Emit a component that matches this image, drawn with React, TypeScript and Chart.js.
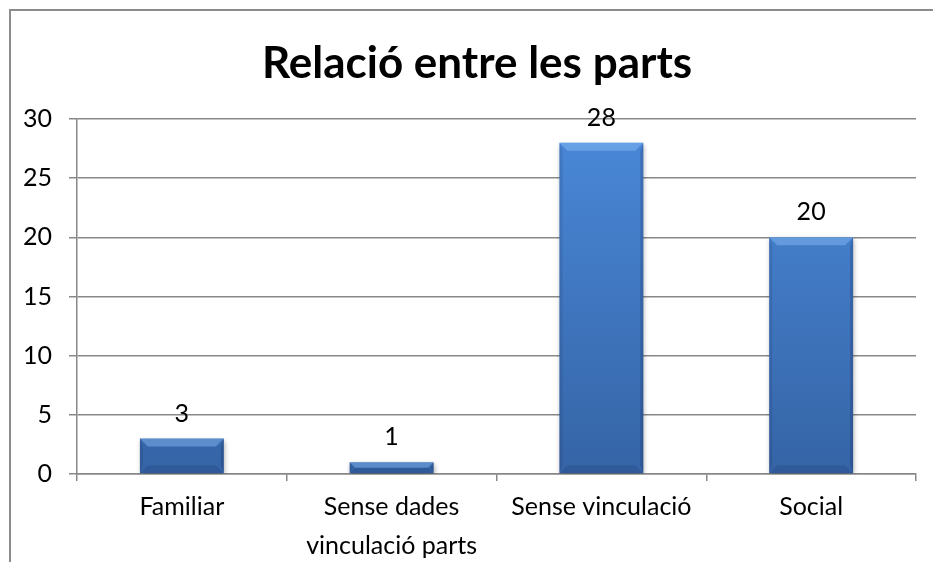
import React, { useEffect, useRef } from 'react';
import { Chart, registerables } from 'chart.js';

Chart.register(...registerables);

const chartTitle = 'Relació entre les parts';
const categories: (string | string[])[] = ['Familiar', ['Sense dades', 'vinculació parts'], 'Sense vinculació', 'Social'];
const values = [3, 1, 28, 20];
const yMin = 0;
const yMax = 30;
const yStep = 5;

const FONT = 'Lato, "Open Sans", sans-serif';
const GRID = '#888888';

const titlePlugin = {
  id: 'customTitle',
  afterDraw(chart: any) {
    const ctx = chart.ctx;
    ctx.save();
    ctx.fillStyle = '#000000';
    ctx.font = `bold 44px ${FONT}`;
    ctx.textAlign = 'center';
    ctx.textBaseline = 'middle';
    ctx.fillText(chartTitle, 466, 53);
    ctx.restore();
  },
};

const bevelPlugin = {
  id: 'bevelLabels',
  beforeDatasetsDraw(chart: any) {
    const ctx = chart.ctx;
    ctx.save();
    ctx.shadowColor = 'rgba(0,0,0,0.35)';
    ctx.shadowBlur = 5;
    ctx.shadowOffsetX = 1;
    ctx.shadowOffsetY = 2;
  },
  afterDatasetsDraw(chart: any) {
    const ctx = chart.ctx;
    ctx.restore();
    const meta = chart.getDatasetMeta(0);
    const data = chart.data.datasets[0].data as number[];
    meta.data.forEach((el: any, i: number) => {
      const { x, y, base, width } = el.getProps(['x', 'y', 'base', 'width'], true);
      const l = x - width / 2;
      const r = x + width / 2;
      const t = y;
      const b = base;
      const h = b - t;
      const bv = Math.min(8, h / 2);
      const sw = Math.min(3, h / 2);
      const poly = (pts: number[][], fill: string) => {
        ctx.beginPath();
        ctx.moveTo(pts[0][0], pts[0][1]);
        for (let k = 1; k < pts.length; k++) ctx.lineTo(pts[k][0], pts[k][1]);
        ctx.closePath();
        ctx.fillStyle = fill;
        ctx.fill();
      };
      ctx.save();
      poly([[l, t], [r, t], [r - bv, t + bv], [l + bv, t + bv]], 'rgba(150,200,255,0.40)');
      poly([[l, t], [l + sw, t + bv], [l + sw, b - bv], [l, b]], 'rgba(0,0,40,0.10)');
      poly([[r, t], [r, b], [r - sw, b - bv], [r - sw, t + bv]], 'rgba(0,0,40,0.16)');
      poly([[l, b], [l + bv, b - bv], [r - bv, b - bv], [r, b]], 'rgba(0,0,40,0.10)');
      ctx.restore();

      ctx.save();
      ctx.fillStyle = '#000000';
      ctx.font = `25px ${FONT}`;
      ctx.textAlign = 'center';
      ctx.textBaseline = 'middle';
      ctx.fillText(String(data[i]), x, t - 25);
      ctx.restore();
    });
  },
};

export default function App() {
  const ref = useRef<HTMLCanvasElement | null>(null);

  useEffect(() => {
    if (!ref.current) return;
    const chart = new Chart(ref.current, {
      type: 'bar',
      data: {
        labels: categories as any,
        datasets: [
          {
            data: values,
            backgroundColor: (c: any) => {
              const area = c.chart.chartArea;
              if (!area) return '#4478c4';
              const g = c.chart.ctx.createLinearGradient(0, area.top, 0, area.bottom);
              g.addColorStop(0, '#4a89d9');
              g.addColorStop(1, '#3564a6');
              return g;
            },
            borderWidth: 0,
            categoryPercentage: 1,
            barPercentage: 0.4,
          },
        ],
      },
      options: {
        animation: false,
        responsive: false,
        maintainAspectRatio: false,
        layout: { padding: { left: 0, right: 17, top: 108, bottom: 0 } },
        plugins: {
          legend: { display: false },
          tooltip: { enabled: false },
          title: { display: false },
        },
        scales: {
          x: {
            grid: {
              display: true,
              drawOnChartArea: false,
              drawTicks: true,
              tickLength: 7,
              color: GRID,
              lineWidth: 1.5,
              offset: true,
            },
            border: { display: true, color: GRID, width: 1.5 },
            ticks: {
              color: '#000000',
              font: { family: FONT, size: 25, lineHeight: 1.58 },
              padding: 6,
              maxRotation: 0,
              autoSkip: false,
            },
            afterFit: (s: any) => {
              s.height = 88;
            },
          },
          y: {
            min: yMin,
            max: yMax,
            ticks: {
              stepSize: yStep,
              color: '#000000',
              font: { family: FONT, size: 25 },
              padding: 17,
            },
            grid: {
              color: GRID,
              lineWidth: 1.5,
              tickLength: 8,
              drawTicks: true,
            },
            border: { display: true, color: GRID, width: 1.5 },
            afterFit: (s: any) => {
              s.width = 66;
            },
          },
        },
      },
      plugins: [bevelPlugin, titlePlugin],
    });
    return () => chart.destroy();
  }, []);

  return (
    <div style={{ position: 'fixed', left: 0, top: 0, width: 933, height: 562, overflow: 'hidden', background: '#ffffff' }}>
      <div
        style={{
          position: 'absolute',
          left: 9,
          top: 9,
          width: 940,
          height: 600,
          borderLeft: '2px solid #8c8c8c',
          borderTop: '2px solid #8c8c8c',
          boxSizing: 'border-box',
          background: '#ffffff',
        }}
      >
        <canvas ref={ref} width={922} height={551} style={{ display: 'block', width: 922, height: 551 }} />
      </div>
    </div>
  );
}
